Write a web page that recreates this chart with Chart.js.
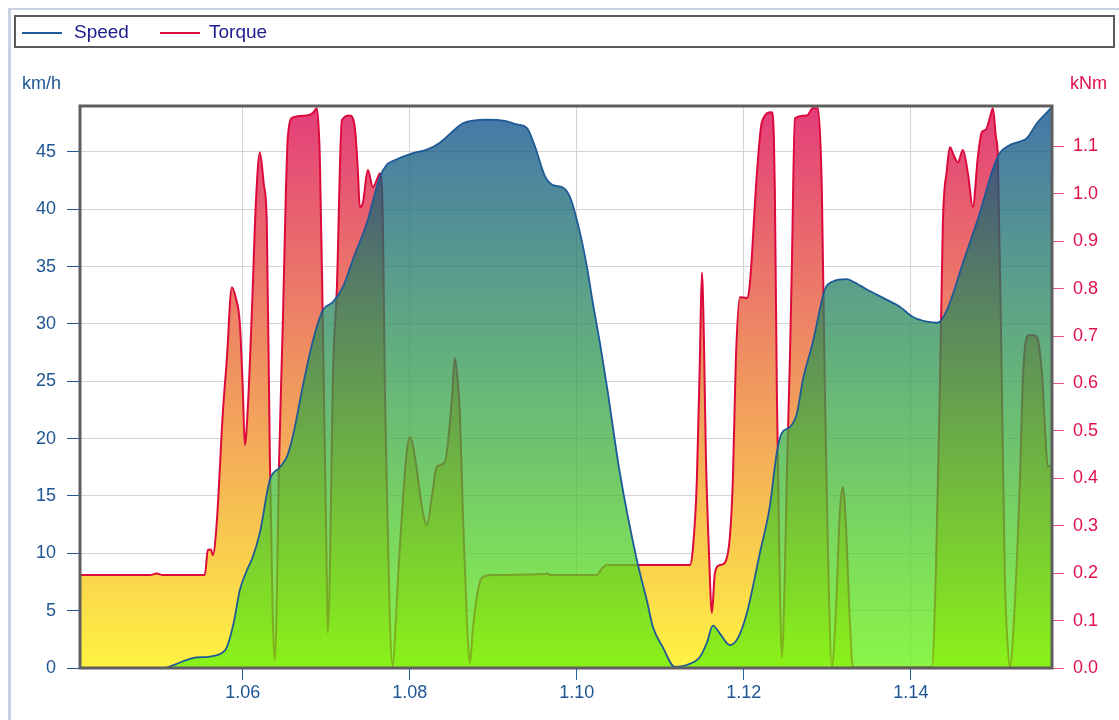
<!DOCTYPE html>
<html lang="en">
<head>
    <meta charset="UTF-8">
    <title>Speed / Torque</title>
    <script src="https://cdn.jsdelivr.net/npm/chart.js"></script>
    <style>
        body {
            margin: 0;
            background: #fff;
            font-family: "Liberation Sans", Arial, sans-serif;
            overflow: hidden;
        }
        .frame {
            position: absolute;
            left: 8px;
            top: 8px;
            width: 1300px;
            height: 900px;
            border-left: 3px solid #c9d1e4;
            border-top: 2px solid #c9d1e4;
        }
        .legend {
            position: absolute;
            left: 14px;
            top: 15px;
            width: 1097px;
            height: 29px;
            border: 2px solid #5a5a5a;
            z-index: 2;
        }
        .legend .item {
            position: absolute;
            top: 4px;
            font-size: 19px;
            color: #1c1c8c;
        }
        .legend .swatch {
            position: absolute;
            height: 2px;
            width: 40px;
            top: 15px;
        }
        .axis-title {
            position: absolute;
            top: 73px;
            font-size: 18px;
            z-index: 2;
        }
        #chart {
            position: absolute;
            left: 0;
            top: 0;
        }
    </style>
</head>
<body>
    <div class="frame"></div>
    <div class="legend">
        <div class="swatch" style="left:6px;background:#1d5a96"></div>
        <div class="item" style="left:58px">Speed</div>
        <div class="swatch" style="left:144px;background:#dc0a3c"></div>
        <div class="item" style="left:193px">Torque</div>
    </div>
    <div class="axis-title" style="left:22px;color:#1f5592">km/h</div>
    <div class="axis-title" style="left:1070px;color:#e0104a">kNm</div>
    <canvas id="chart" width="1119" height="720"></canvas>

    <script>
        // time axis
        const speedX = [1.04048, 1.05066, 1.05186, 1.05401, 1.05605, 1.05749, 1.05808, 1.05892, 1.05964, 1.06048,
            1.0612, 1.06204, 1.06323, 1.06443, 1.06527, 1.06599, 1.06719, 1.06838, 1.06958, 1.07078,
            1.07198, 1.07317, 1.07485, 1.07641, 1.07725, 1.07796, 1.08036, 1.08204, 1.0836, 1.08515,
            1.08635, 1.08922, 1.09138, 1.09282, 1.09401, 1.09497, 1.09617, 1.09713, 1.09832, 1.09916,
            1.10036, 1.1012, 1.10192, 1.10275, 1.10359, 1.10515, 1.10719, 1.10838, 1.1091, 1.1103,
            1.11174, 1.11317, 1.11473, 1.11557, 1.11629, 1.11713, 1.11832, 1.11928, 1.12036, 1.12191,
            1.12311, 1.12395, 1.12455, 1.12551, 1.12635, 1.12706, 1.12826, 1.1297, 1.13066, 1.13233,
            1.13305, 1.13473, 1.13713, 1.13868, 1.14024, 1.14192, 1.14323, 1.14431, 1.14623, 1.14826,
            1.14982, 1.15066, 1.15186, 1.15306, 1.15389, 1.15509, 1.15689];
        const speedY = [0, 0, 0.3, 0.87, 1.0, 1.3, 1.8, 4.0, 6.8, 8.5,
            9.7, 11.8, 16.4, 17.5, 18.4, 20.2, 24.6, 28.5, 31.2, 31.9,
            33.2, 35.6, 38.8, 42.8, 43.9, 44.2, 44.9, 45.2, 45.8, 46.8,
            47.5, 47.8, 47.7, 47.4, 47.1, 45.5, 42.9, 42.1, 41.9, 41.1,
            38.0, 35.0, 31.8, 28.4, 24.6, 17.0, 9.4, 5.9, 3.6, 1.8,
            0.1, 0.26, 0.96, 2.2, 3.7, 3.0, 2.0, 2.6, 4.8, 10.0,
            14.1, 18.8, 20.5, 21.0, 22.2, 25.1, 28.4, 33.0, 33.7, 33.9,
            33.7, 33.0, 32.1, 31.5, 30.6, 30.2, 30.1, 31.2, 35.3, 39.7,
            43.5, 44.9, 45.6, 45.9, 46.2, 47.5, 48.9];

        const torqueX = [1.04048, 1.04886, 1.0497, 1.05042, 1.05545, 1.05581, 1.05617, 1.05641, 1.05689, 1.0576,
            1.05808, 1.05868, 1.05916, 1.05964, 1.06, 1.06024, 1.0606, 1.06108, 1.06156, 1.06204,
            1.06251, 1.06287, 1.06323, 1.06359, 1.06383, 1.06407, 1.06431, 1.06479, 1.06515, 1.06539,
            1.06599, 1.06766, 1.06838, 1.06886, 1.06922, 1.06958, 1.07006, 1.07018, 1.07042, 1.07078,
            1.07126, 1.07186, 1.07281, 1.07341, 1.07377, 1.07401, 1.07437, 1.07497, 1.07557, 1.07617,
            1.07641, 1.07677, 1.07701, 1.07725, 1.07761, 1.07796, 1.07832, 1.0788, 1.08, 1.08036,
            1.08084, 1.08144, 1.08204, 1.08263, 1.08323, 1.08419, 1.08503, 1.08539, 1.08575, 1.08599,
            1.08635, 1.08683, 1.08719, 1.08754, 1.08802, 1.08862, 1.08994, 1.09617, 1.09641, 1.09677,
            1.1024, 1.103, 1.10359, 1.11353, 1.11389, 1.11437, 1.11473, 1.11497, 1.11521, 1.11545,
            1.11581, 1.11617, 1.11653, 1.11713, 1.11772, 1.11832, 1.11868, 1.11904, 1.11952, 1.12036,
            1.12072, 1.12156, 1.12216, 1.12335, 1.12359, 1.12371, 1.12395, 1.12419, 1.12455, 1.12491,
            1.12515, 1.12551, 1.12575, 1.12611, 1.12754, 1.12826, 1.12886, 1.12934, 1.1297, 1.13006,
            1.13054, 1.13102, 1.1315, 1.13186, 1.13222, 1.13269, 1.13305, 1.14251, 1.14299, 1.14347,
            1.14383, 1.14431, 1.14467, 1.14515, 1.14563, 1.14623, 1.14683, 1.14742, 1.14802, 1.1485,
            1.14898, 1.14946, 1.14982, 1.15018, 1.15042, 1.1509, 1.15126, 1.15162, 1.15186, 1.15234,
            1.15306, 1.15341, 1.15389, 1.15425, 1.15497, 1.15521, 1.15569, 1.15593, 1.15641, 1.15689];
        const torqueY = [0.196, 0.196, 0.199, 0.196, 0.196, 0.249, 0.25, 0.238, 0.31, 0.537,
            0.65, 0.803, 0.78, 0.727, 0.586, 0.47, 0.55, 0.75, 0.98, 1.087,
            1.02, 0.938, 0.45, 0.1, 0.017, 0.15, 0.413, 0.727, 1.0, 1.12,
            1.161, 1.165, 1.17, 1.18, 1.077, 0.727, 0.185, 0.074, 0.2, 0.607,
            0.8, 1.155, 1.165, 1.14, 1.05, 0.972, 0.98, 1.05, 1.014, 1.035,
            1.043, 0.938, 0.586, 0.38, 0.1, 0.002, 0.1, 0.255, 0.487, 0.47,
            0.417, 0.34, 0.301, 0.36, 0.424, 0.434, 0.565, 0.653, 0.6, 0.537,
            0.327, 0.1, 0.01, 0.08, 0.15, 0.19, 0.196, 0.198, 0.2, 0.196,
            0.196, 0.21, 0.217, 0.217, 0.25, 0.396, 0.65, 0.834, 0.7, 0.45,
            0.25, 0.116, 0.2, 0.217, 0.222, 0.276, 0.396, 0.65, 0.782, 0.78,
            0.811, 1.043, 1.151, 1.172, 1.12, 1.007, 0.586, 0.3, 0.023, 0.2,
            0.41, 0.65, 0.85, 1.159, 1.165, 1.18, 1.18, 1.007, 0.586, 0.25,
            0.002, 0.12, 0.33, 0.381, 0.3, 0.1, 0.002, 0.002, 0.2, 0.586,
            0.938, 1.05, 1.098, 1.08, 1.066, 1.092, 1.043, 0.972, 1.077, 1.13,
            1.135, 1.16, 1.18, 1.12, 1.077, 0.586, 0.185, 0.04, 0.002, 0.1,
            0.396, 0.607, 0.698, 0.702, 0.7, 0.693, 0.622, 0.55, 0.424, 0.43];

        // tick labels
        const timeTicks = [1.06, 1.08, 1.10, 1.12, 1.14];
        const speedTicks = [0, 5, 10, 15, 20, 25, 30, 35, 40, 45];
        const torqueTicks = [0, 0.1, 0.2, 0.3, 0.4, 0.5, 0.6, 0.7, 0.8, 0.9, 1.0, 1.1];

        const toPoints = (xs, ys) => xs.map((x, i) => ({ x: x, y: ys[i] }));

        function vGradient(context, top, bottom) {
            const { ctx, chartArea } = context.chart;
            if (!chartArea) return top;
            const g = ctx.createLinearGradient(0, chartArea.top, 0, chartArea.bottom);
            g.addColorStop(0, top);
            g.addColorStop(1, bottom);
            return g;
        }

        // plot frame drawn over the data
        const plotFrame = {
            id: 'plotFrame',
            afterDatasetsDraw(chart) {
                const { ctx, chartArea: a } = chart;
                ctx.save();
                ctx.strokeStyle = '#5f5f5f';
                ctx.lineWidth = 3;
                ctx.strokeRect(a.left, a.top, a.right - a.left, a.bottom - a.top);
                ctx.restore();
            }
        };

        const tickFont = { family: '"Liberation Sans", Arial, sans-serif', size: 18 };

        new Chart(document.getElementById('chart'), {
            type: 'line',
            data: {
                datasets: [
                    {
                        label: 'Speed',
                        data: toPoints(speedX, speedY),
                        yAxisID: 'y',
                        borderColor: '#1d5a96',
                        borderWidth: 1.8,
                        pointRadius: 0,
                        cubicInterpolationMode: 'monotone',
                        fill: 'start',
                        backgroundColor: c => vGradient(c, 'rgba(5,73,140,0.75)', 'rgba(100,242,11,0.75)')
                    },
                    {
                        label: 'Torque',
                        data: toPoints(torqueX, torqueY),
                        yAxisID: 'y1',
                        borderColor: '#dc0a3c',
                        borderWidth: 2,
                        pointRadius: 0,
                        cubicInterpolationMode: 'monotone',
                        fill: 'start',
                        backgroundColor: c => vGradient(c, 'rgb(227,62,122)', 'rgb(254,243,66)')
                    }
                ]
            },
            options: {
                responsive: false,
                animation: false,
                layout: { padding: { top: 106, left: 0, right: 0, bottom: 0 } },
                plugins: { legend: { display: false }, tooltip: { enabled: false } },
                scales: {
                    x: {
                        type: 'linear',
                        min: 1.0405,
                        max: 1.1569,
                        afterBuildTicks: s => { s.ticks = timeTicks.map(v => ({ value: v })); },
                        afterFit: s => { s.height = 52; },
                        border: { display: false },
                        grid: { color: '#d4d4d4', tickColor: '#2a64a0', tickLength: 12, lineWidth: 1 },
                        ticks: { color: '#1f5592', font: tickFont, padding: 2, maxRotation: 0,
                            callback: v => v.toFixed(2) }
                    },
                    y: {
                        position: 'left',
                        min: 0,
                        max: 49,
                        afterBuildTicks: s => { s.ticks = speedTicks.map(v => ({ value: v })); },
                        afterFit: s => { s.width = 80; },
                        border: { display: false },
                        grid: { color: '#d4d4d4', tickColor: '#1f5592', tickLength: 13 },
                        ticks: { color: '#1f5592', font: tickFont, padding: 11 }
                    },
                    y1: {
                        position: 'right',
                        min: 0,
                        max: 1.185,
                        afterBuildTicks: s => { s.ticks = torqueTicks.map(v => ({ value: v })); },
                        afterFit: s => { s.width = 67; },
                        border: { display: false },
                        grid: { drawOnChartArea: false, tickColor: '#e8527e', tickLength: 12 },
                        ticks: { color: '#e0104a', font: tickFont, padding: 9,
                            callback: v => v.toFixed(1) }
                    }
                }
            },
            plugins: [plotFrame]
        });
    </script>
</body>
</html>
